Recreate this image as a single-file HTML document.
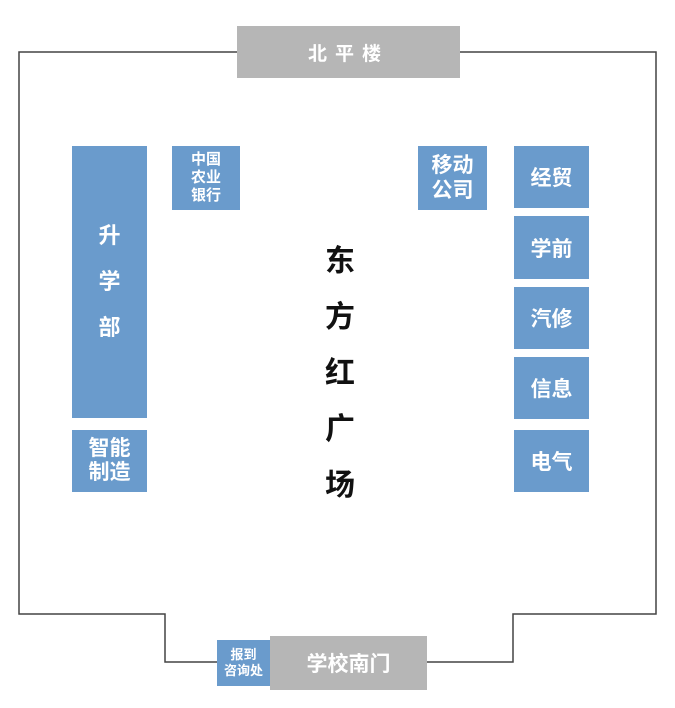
<!DOCTYPE html>
<html><head><meta charset="utf-8"><style>
body{margin:0;width:675px;height:708px;background:#fff;position:relative;overflow:hidden;font-family:"Liberation Sans","Noto Sans CJK SC",sans-serif;}
.b{position:absolute;background:#6a9bcc;color:#fff;font-weight:bold;display:flex;align-items:center;justify-content:center;text-align:center;}
.g{position:absolute;background:#b6b6b6;color:#fff;font-weight:bold;display:flex;align-items:center;justify-content:center;}
.c{position:absolute;left:315px;width:50px;text-align:center;font-size:30px;font-weight:bold;color:#111;}
</style></head><body>
<svg width="675" height="708" style="position:absolute;left:0;top:0">
<polyline points="237,52 19,52 19,614 165,614 165,662 217,662" fill="none" stroke="#444" stroke-width="1.5"/>
<polyline points="460,52 656,52 656,614 513,614 513,662 427,662" fill="none" stroke="#444" stroke-width="1.5"/>
</svg>
<div class="g" style="left:237px;top:26px;width:223px;height:52px;font-size:19px;letter-spacing:8px">北平楼</div>
<div class="g" style="left:270px;top:636px;width:157px;height:54px;font-size:21px">学校南门</div>
<div class="b" style="left:217px;top:640px;width:53px;height:46px;font-size:13px;line-height:16px">报到<br>咨询处</div>
<div class="b" style="left:72px;top:146px;width:75px;height:272px;font-size:22px;line-height:46px">升<br>学<br>部</div>
<div class="b" style="left:72px;top:430px;width:75px;height:62px;font-size:21px;line-height:24px">智能<br>制造</div>
<div class="b" style="left:172px;top:146px;width:68px;height:64px;font-size:15px;line-height:18px">中国<br>农业<br>银行</div>
<div class="b" style="left:418px;top:146px;width:69px;height:64px;font-size:21px;line-height:25px">移动<br>公司</div>
<div class="b" style="left:514px;top:146px;width:75px;height:62px;font-size:21px">经贸</div>
<div class="b" style="left:514px;top:216px;width:75px;height:63px;font-size:21px">学前</div>
<div class="b" style="left:514px;top:287px;width:75px;height:62px;font-size:21px">汽修</div>
<div class="b" style="left:514px;top:357px;width:75px;height:62px;font-size:21px">信息</div>
<div class="b" style="left:514px;top:430px;width:75px;height:62px;font-size:21px">电气</div>
<div class="c" style="top:236px">东</div>
<div class="c" style="top:292px">方</div>
<div class="c" style="top:348px">红</div>
<div class="c" style="top:404px">广</div>
<div class="c" style="top:460px">场</div>
</body></html>
